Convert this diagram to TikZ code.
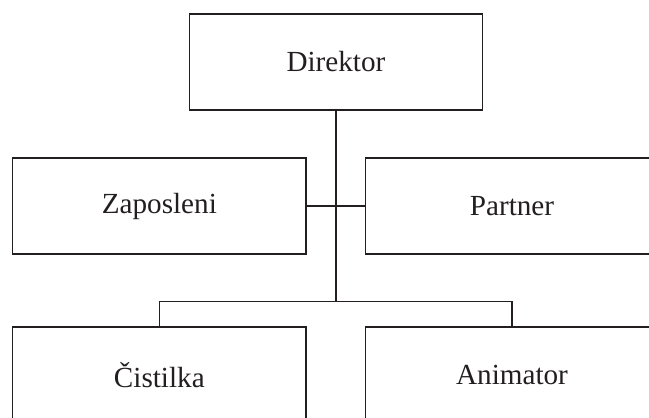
\documentclass[tikz,border=0pt]{standalone}
\usepackage{fontspec}
\setmainfont{Liberation Serif}
\usepackage{tikz}
\usepackage{xcolor}
\usetikzlibrary{calc}
\definecolor{lineink}{RGB}{35,31,32}

\begin{document}
\begin{tikzpicture}[x=0.02cm, y=0.02cm]
		\tikzstyle{every node}+=[inner sep=0pt]
		\tikzstyle{unit}=[draw=lineink, line width=0.85pt, minimum width=5.866cm, minimum height=1.92cm, font=\fontsize{16.6}{20}\selectfont, text=lineink]
		\useasboundingbox (0,0) rectangle (649,-418);
		\clip (0,0) rectangle (649,-418);
		\node [unit] (dir) at (335.9,-62) {Direktor};
		\node [unit] (zap) at (159.35,-206) {Zaposleni};
		\node [unit] (par) at (512,-206) {Partner};
		\node [unit] (cis) at (159.35,-375.2) {Čistilka};
		\node [unit] (ani) at (512,-375.2) {Animator};
		\coordinate (bus) at ($(cis.north)+(0,25)$);
		\draw [lineink, line width=0.85pt] (zap.east) -- (par.west);
		\draw [lineink, line width=0.85pt] (dir.south) -- (dir.south |- bus);
		\draw [lineink, line width=0.85pt] (cis.north) -- (bus) -| (ani.north);
\end{tikzpicture}
\end{document}
